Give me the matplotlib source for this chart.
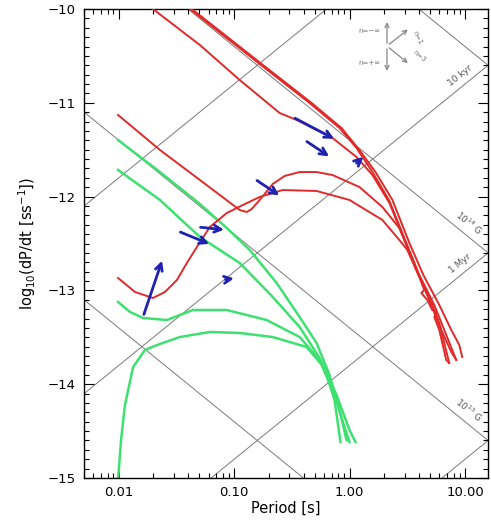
import numpy as np
import matplotlib
matplotlib.use('Agg')
import matplotlib.pyplot as plt
from matplotlib.ticker import MultipleLocator, LogLocator, NullFormatter

# ---- tracks as log10(P [s]) and log10(Pdot)
red1_logp = [-1.80, -1.704, -1.297, -0.952, -0.606, -0.459, -0.148, 0.060, 0.198, 0.345, 0.492, 0.578, 0.690, 0.777, 0.863]
red1_logpdot = [-9.90, -10.00, -10.384, -10.757, -11.109, -11.183, -11.375, -11.578, -11.770, -12.068, -12.516, -12.783, -13.070, -13.348, -13.774]

red2_logp = [-1.48, -1.384, -0.779, -0.347, -0.087, 0.060, 0.198, 0.345, 0.492, 0.604, 0.734, 0.820, 0.924]
red2_logpdot = [-9.90, -10.00, -10.586, -11.002, -11.269, -11.482, -11.738, -12.047, -12.495, -12.836, -13.156, -13.422, -13.742]

red3_logp = [-1.46, -1.367, -0.762, -0.329, -0.070, 0.085, 0.224, 0.371, 0.518, 0.639, 0.777, 0.881, 0.950, 0.976]
red3_logpdot = [-9.90, -10.00, -10.586, -11.002, -11.269, -11.503, -11.738, -12.036, -12.495, -12.836, -13.156, -13.422, -13.582, -13.710]

red4_logp = [-2.006, -1.643, -1.297, -0.952, -0.891, -0.848, -0.779, -0.666, -0.563, -0.433, -0.286, -0.148,
             0.085, 0.284, 0.431, 0.500, 0.587, 0.690, 0.794, 0.881, 0.924]
red4_logpdot = [-11.130, -11.503, -11.823, -12.143, -12.164, -12.132, -12.036, -11.866, -11.780, -11.738, -11.738, -11.770,
                -11.898, -12.111, -12.335, -12.537, -12.804, -13.102, -13.422, -13.657, -13.742]

red5_logp = [-2.006, -1.859, -1.704, -1.600, -1.496, -1.410, -1.323, -1.211, -1.064, -0.926, -0.779, -0.580, -0.286, -0.001,
             0.284, 0.431, 0.500, 0.578, 0.604, 0.647, 0.621, 0.673, 0.716, 0.751, 0.734, 0.777, 0.803, 0.837, 0.863]
red5_logpdot = [-12.868, -13.017, -13.081, -13.017, -12.889, -12.708, -12.537, -12.324, -12.175, -12.090, -12.004, -11.930, -11.940, -12.036,
                -12.249, -12.463, -12.569, -12.783, -12.857, -12.996, -13.028, -13.102, -13.209, -13.230, -13.284, -13.422, -13.561, -13.742, -13.774]

green1_logp = [-2.006, -1.643, -1.297, -1.064, -0.865, -0.632, -0.433, -0.286, -0.174, -0.087, -0.027]
green1_logpdot = [-11.397, -11.738, -12.079, -12.335, -12.569, -12.921, -13.284, -13.561, -13.902, -14.275, -14.595]

green2_logp = [-2.006, -1.643, -1.297, -0.952, -0.666, -0.433, -0.260, -0.113, -0.001, 0.051]
green2_logpdot = [-11.716, -12.036, -12.431, -12.708, -13.070, -13.390, -13.721, -14.115, -14.488, -14.616]

green3_logp = [-2.006, -1.902, -1.790, -1.583, -1.358, -1.064, -0.718, -0.433, -0.260, -0.131, -0.036, -0.001]
green3_logpdot = [-13.124, -13.230, -13.294, -13.316, -13.209, -13.209, -13.316, -13.497, -13.742, -14.115, -14.488, -14.616]

green4_logp = [-2.006, -1.980, -1.946, -1.876, -1.773, -1.669, -1.470, -1.211, -0.952, -0.666, -0.373, -0.217, -0.131, -0.079]
green4_logpdot = [-15.02, -14.595, -14.222, -13.817, -13.635, -13.582, -13.497, -13.443, -13.454, -13.497, -13.603, -13.827, -14.168, -14.616]

# braking-index arrows: tail (logP, logPdot) -> head (logP, logPdot)
arrow_tail_logp = [-1.790, -1.488, -1.315, -1.099, -0.822, -0.494, -0.390, 0.042]
arrow_tail_logpdot = [-13.284, -12.367, -12.324, -12.889, -11.812, -11.151, -11.397, -11.663]
arrow_head_logp = [-1.617, -1.194, -1.064, -0.978, -0.589, -0.113, -0.157, 0.137]
arrow_head_logpdot = [-12.655, -12.516, -12.356, -12.868, -12.004, -11.397, -11.588, -11.557]

# constant B lines: log Pdot = c - log P ; constant age lines: tau = P / (2 Pdot)
field_labels = ['', '10$^{14}$ G', '10$^{13}$ G', '']
field_intercepts = [-9.4, -11.4, -13.4, -15.4]
age_labels = ['', '10 kyr', '1 Myr', '']
age_years = [1e2, 1e4, 1e6, 1e8]

xticks = [0.01, 0.1, 1.0, 10.0]
xtick_labels = ['0.01', '0.10', '1.00', '10.00']
yticks = [-15, -14, -13, -12, -11, -10]

RED = '#e02a2a'
GREEN = '#3ee070'
BLUE = '#1f22b0'
GRAY = '#7a7a7a'

fig = plt.figure(figsize=(4.91, 5.23), dpi=100)
ax = fig.add_axes([84 / 491, 45 / 523, 404 / 491, 469 / 523])
ax.set_xscale('log')
xmin, xmax = 0.005, 0.005 * 10 ** 3.5
ax.set_xlim(xmin, xmax)
ax.set_ylim(-15, -10)

# background grid of B and age lines
lx = np.log10([xmin, xmax])
for c in field_intercepts:
    ax.plot(10 ** lx, c - lx, color=GRAY, lw=0.7, zorder=1)
yr = 3.156e7
for t in age_years:
    c = -np.log10(2 * t * yr)
    ax.plot(10 ** lx, c + lx, color=GRAY, lw=0.7, zorder=1)

# labels near the right edge
lab_lp = np.log10(xmax) - 0.2
for lab, c in zip(field_labels, field_intercepts):
    if lab:
        ax.text(10 ** lab_lp, c - lab_lp + 0.07, lab, fontsize=6.5, color='#555555',
                rotation=-39, rotation_mode='anchor', ha='center', va='bottom')
for lab, t in zip(age_labels, age_years):
    if lab:
        c = -np.log10(2 * t * yr)
        ax.text(10 ** (lab_lp - 0.02), c + lab_lp - 0.02 + 0.07, lab, fontsize=6.5, color='#555555',
                rotation=39, rotation_mode='anchor', ha='center', va='bottom')

reds = [(red1_logp, red1_logpdot), (red2_logp, red2_logpdot), (red3_logp, red3_logpdot),
        (red4_logp, red4_logpdot), (red5_logp, red5_logpdot)]
for lp, lpd in reds:
    ax.plot(10 ** np.array(lp), lpd, color=RED, lw=1.4, zorder=3)

greens = [(green1_logp, green1_logpdot), (green2_logp, green2_logpdot),
          (green3_logp, green3_logpdot), (green4_logp, green4_logpdot)]
for lp, lpd in greens:
    ax.plot(10 ** np.array(lp), lpd, color=GREEN, lw=1.8, zorder=2)

for tx, ty, hx, hy in zip(arrow_tail_logp, arrow_tail_logpdot, arrow_head_logp, arrow_head_logpdot):
    ax.annotate('', xy=(10 ** hx, hy), xytext=(10 ** tx, ty),
                arrowprops=dict(arrowstyle='->,head_length=0.5,head_width=0.25', color=BLUE, lw=2),
                zorder=4)

# braking index key, top right
kc = (0.750, 0.921)
akw = dict(arrowstyle='->,head_length=0.3,head_width=0.15', color='#888888', lw=0.9)
ax.annotate('', xy=(0.750, 0.978), xytext=kc, xycoords='axes fraction', arrowprops=akw)
ax.annotate('', xy=(0.750, 0.862), xytext=kc, xycoords='axes fraction', arrowprops=akw)
ax.annotate('', xy=(0.807, 0.960), xytext=kc, xycoords='axes fraction', arrowprops=akw)
ax.annotate('', xy=(0.807, 0.881), xytext=kc, xycoords='axes fraction', arrowprops=akw)
ax.text(0.735, 0.953, 'n=\u2212\u221e', transform=ax.transAxes, fontsize=5, color='#777777', ha='right', va='center')
ax.text(0.735, 0.885, 'n=+\u221e', transform=ax.transAxes, fontsize=5, color='#777777', ha='right', va='center')
ax.text(0.826, 0.938, 'n=1', transform=ax.transAxes, fontsize=5, color='#777777', ha='center', va='center', rotation=-65)
ax.text(0.829, 0.900, 'n=3', transform=ax.transAxes, fontsize=5, color='#777777', ha='center', va='center', rotation=-40)

ax.set_xticks(xticks, labels=xtick_labels)
ax.xaxis.set_minor_locator(LogLocator(base=10, subs=np.arange(2, 10)))
ax.xaxis.set_minor_formatter(NullFormatter())
ax.set_yticks(yticks)
ax.yaxis.set_minor_locator(MultipleLocator(0.1))
ax.tick_params(which='both', direction='in', top=True, right=True, labelsize=9.5, width=0.8)
ax.tick_params(which='major', length=7, pad=6)
ax.tick_params(which='minor', length=3.5)
for s in ax.spines.values():
    s.set_linewidth(1.0)

ax.set_xlabel('Period [s]', fontsize=10.5, labelpad=1)
ax.set_ylabel('log$_{10}$(dP/dt [ss$^{-1}$])', fontsize=10.5, labelpad=7)

plt.savefig('out.png', dpi=100)
